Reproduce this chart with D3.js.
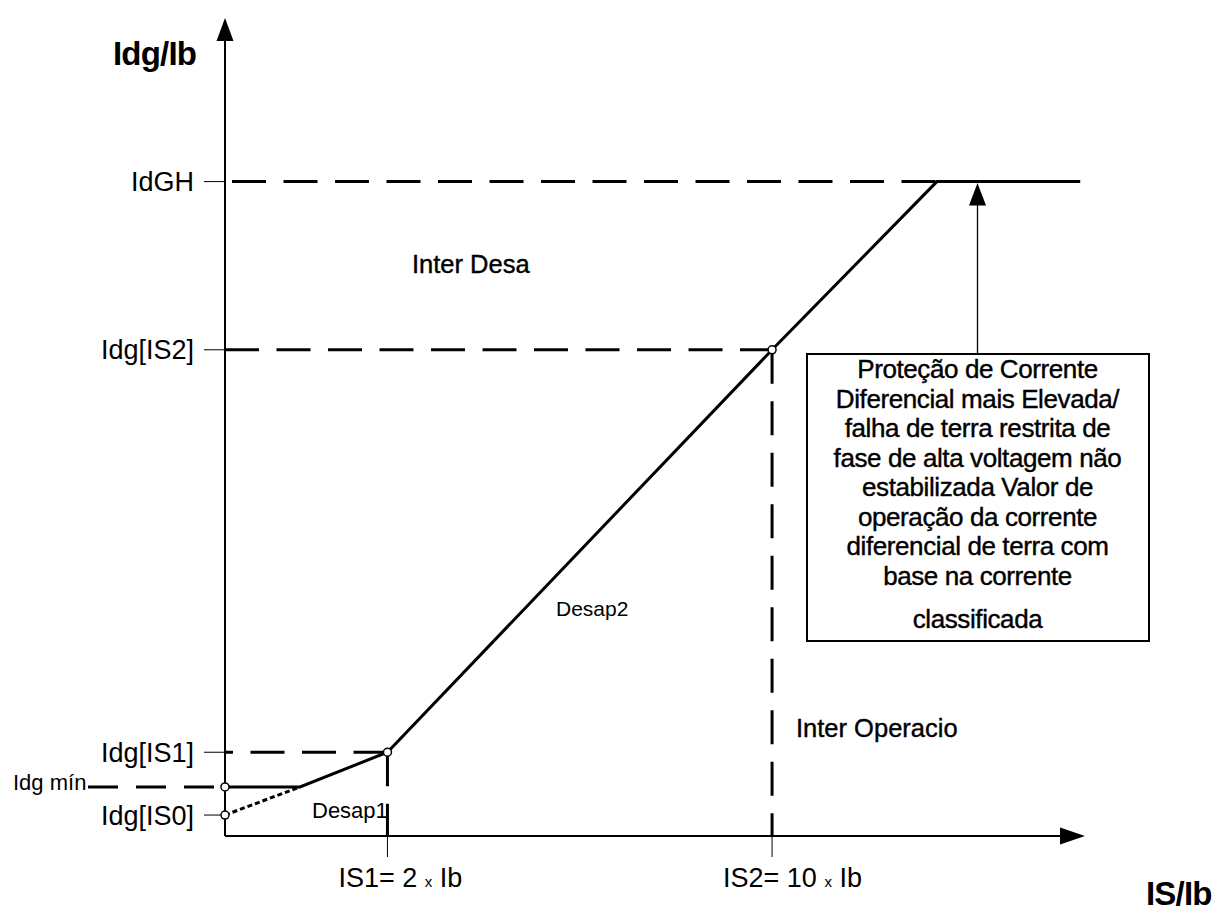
<!DOCTYPE html>
<html>
<head>
<meta charset="utf-8">
<script src="https://cdn.jsdelivr.net/npm/d3@7/dist/d3.min.js"></script>
<style>
  html, body { margin: 0; padding: 0; background: #fff; }
  svg { display: block; }
  text { font-family: "Liberation Sans", Arial, Helvetica, sans-serif; fill: #000; }
</style>
</head>
<body>
<svg id="chart" width="1219" height="913"></svg>
<script>
// ---- data (schematic units) ----
const yTickLabels = ["Idg[IS0]", "Idg[IS1]", "Idg[IS2]", "IdGH"];
const yTickValues = [0.32, 1.28, 7.43, 10];
const minLabel = "Idg mín";
const minValue = 0.75;
const xTickLabels = ["IS1= 2", "IS2= 10"];
const xTickValues = [3.4, 11.45];
const xTickUnit = "Ib";
// operating characteristic (solid)
const curveX = [0, 1.57, 3.4, 11.45, 14.9, 17.9];
const curveY = [0.75, 0.75, 1.28, 7.43, 10, 10];
// Desap1 extension to origin (dotted)
const extX = [0, 1.57];
const extY = [0.32, 0.75];
// marker circles
const markX = [0, 0, 3.4, 11.45];
const markY = [0.75, 0.32, 1.28, 7.43];
const annotX = 15.75;
const boxLines = [
  "Proteção de Corrente",
  "Diferencial mais Elevada/",
  "falha de terra restrita de",
  "fase de alta voltagem não",
  "estabilizada Valor de",
  "operação da corrente",
  "diferencial de terra com",
  "base na corrente",
  "classificada"
];

// ---- scales ----
const x = d3.scaleLinear().domain([0, 18]).range([225, 1085]);
const y = d3.scaleLinear().domain([0, 12.5]).range([836, 18]);

const svg = d3.select("#chart");
const DASH = "34,17.5";

// dashed horizontal guides
function hDash(v, x0v, x1v, offset) {
  svg.append("line")
    .attr("x1", x(x0v)).attr("x2", x(x1v))
    .attr("y1", y(v)).attr("y2", y(v))
    .attr("stroke", "#000").attr("stroke-width", 3)
    .attr("stroke-dasharray", DASH).attr("stroke-dashoffset", offset);
}
hDash(10, 0, 14.9, 44.5);
hDash(7.43, 0, 11.45, 0);
hDash(1.28, 0, 3.4, 26);
// Idg mín dashed to the left of axis
svg.append("line")
  .attr("x1", 88).attr("x2", x(0))
  .attr("y1", y(minValue)).attr("y2", y(minValue))
  .attr("stroke", "#000").attr("stroke-width", 3)
  .attr("stroke-dasharray", "30,18");

// vertical dashed guides
function vDash(xv, yv) {
  svg.append("line")
    .attr("x1", x(xv)).attr("x2", x(xv))
    .attr("y1", y(yv)).attr("y2", y(0))
    .attr("stroke", "#000").attr("stroke-width", 3)
    .attr("stroke-dasharray", DASH);
}
vDash(3.4, 1.28);
vDash(11.45, 7.43);

// axes
svg.append("line").attr("x1", x(0)).attr("x2", x(0)).attr("y1", y(0)).attr("y2", y(12.5) + 20)
  .attr("stroke", "#000").attr("stroke-width", 2);
svg.append("path")
  .attr("d", `M${x(0)},${y(12.5)} L${x(0) - 8.5},${y(12.5) + 23} L${x(0) + 8.5},${y(12.5) + 23} Z`)
  .attr("fill", "#000");
svg.append("line").attr("x1", x(0)).attr("x2", x(18) - 20).attr("y1", y(0)).attr("y2", y(0))
  .attr("stroke", "#000").attr("stroke-width", 1.8);
svg.append("path")
  .attr("d", `M${x(18)},${y(0)} L${x(18) - 25},${y(0) - 8.5} L${x(18) - 25},${y(0) + 8.5} Z`)
  .attr("fill", "#000");

// y ticks + labels
yTickValues.forEach((v, i) => {
  svg.append("line").attr("x1", 204).attr("x2", x(0)).attr("y1", y(v)).attr("y2", y(v))
    .attr("stroke", "#000").attr("stroke-width", 1);
  svg.append("text").attr("x", 194).attr("y", y(v) + 9.5)
    .attr("text-anchor", "end").attr("font-size", 27).text(yTickLabels[i]);
});
svg.append("text").attr("x", 13).attr("y", y(minValue) + 3)
  .attr("font-size", 22).text(minLabel);

// x ticks + labels
xTickValues.forEach((v, i) => {
  svg.append("line").attr("x1", x(v)).attr("x2", x(v)).attr("y1", y(0)).attr("y2", 857)
    .attr("stroke", "#000").attr("stroke-width", 1);
  const t = svg.append("text").attr("x", x(v) - 49).attr("y", 887).attr("font-size", 27);
  t.append("tspan").text(xTickLabels[i] + " ");
  t.append("tspan").attr("font-size", 15).text("x");
  t.append("tspan").text(" " + xTickUnit);
});

// characteristic
const line = d3.line().x(d => x(d[0])).y(d => y(d[1]));
svg.append("path").datum(extX.map((v, i) => [v, extY[i]]))
  .attr("d", line).attr("fill", "none").attr("stroke", "#000")
  .attr("stroke-width", 3).attr("stroke-dasharray", "5,3");
svg.append("path").datum(curveX.map((v, i) => [v, curveY[i]]))
  .attr("d", line).attr("fill", "none").attr("stroke", "#000")
  .attr("stroke-width", 3).attr("stroke-linejoin", "miter");

// markers
markX.forEach((v, i) => {
  svg.append("circle").attr("cx", x(v)).attr("cy", y(markY[i])).attr("r", 4)
    .attr("fill", "#fff").attr("stroke", "#000").attr("stroke-width", 1.5);
});

// annotation box + arrow
const boxL = 807, boxR = 1149, boxT = 354, boxB = 641;
svg.append("rect").attr("x", boxL).attr("y", boxT).attr("width", boxR - boxL).attr("height", boxB - boxT)
  .attr("fill", "#fff").attr("stroke", "#000").attr("stroke-width", 2);
svg.append("line").attr("x1", x(annotX)).attr("x2", x(annotX)).attr("y1", boxT).attr("y2", y(10) + 20)
  .attr("stroke", "#000").attr("stroke-width", 1.3);
svg.append("path")
  .attr("d", `M${x(annotX)},${y(10) + 1.5} L${x(annotX) - 8.5},${y(10) + 24} L${x(annotX) + 8.5},${y(10) + 24} Z`)
  .attr("fill", "#000");
const boxBase = [378, 407.5, 437, 466.5, 496, 525.5, 555, 584.5, 628];
boxLines.forEach((s, i) => {
  svg.append("text").attr("x", x(annotX)).attr("y", boxBase[i])
    .attr("text-anchor", "middle").attr("font-size", 26).attr("letter-spacing", -0.4)
    .attr("stroke", "#000").attr("stroke-width", 0.4).text(s);
});

// region labels
svg.append("text").attr("x", 412).attr("y", 273).attr("font-size", 25.5)
  .attr("stroke", "#000").attr("stroke-width", 0.4).text("Inter Desa");
svg.append("text").attr("x", 796).attr("y", 737).attr("font-size", 25.5)
  .attr("stroke", "#000").attr("stroke-width", 0.4).text("Inter Operacio");
svg.append("text").attr("x", 556).attr("y", 616).attr("font-size", 21).text("Desap2");
svg.append("text").attr("x", 312).attr("y", 818).attr("font-size", 22).text("Desap1");

// axis titles
svg.append("text").attr("x", 113).attr("y", 65).attr("font-size", 33).attr("font-weight", "bold")
  .attr("letter-spacing", -0.8).text("Idg/Ib");
svg.append("text").attr("x", 1146).attr("y", 905).attr("font-size", 33).attr("font-weight", "bold")
  .attr("letter-spacing", -0.8).text("IS/Ib");
</script>
</body>
</html>
